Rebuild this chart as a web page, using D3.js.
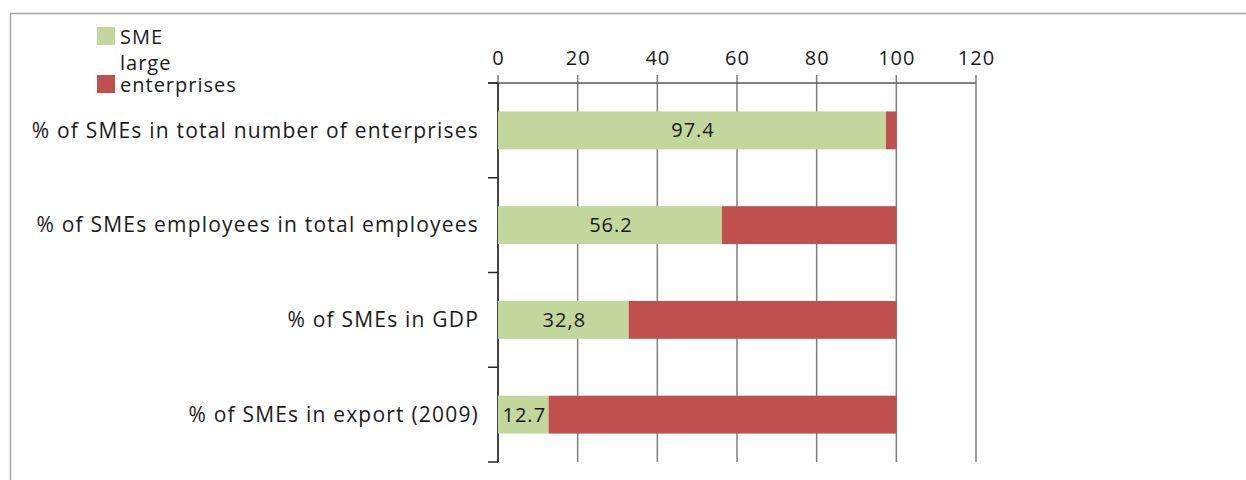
<!DOCTYPE html>
<html>
<head>
  <meta charset="utf-8">
  <title>SMEs share</title>
  <style>
    body { margin: 0; background: #fff; }
    text { font-family: "Open Sans", sans-serif; fill: #1a1a1a; letter-spacing: 1px; }
  </style>
  <script src="https://d3js.org/d3.v7.min.js"></script>
</head>
<body>
  <div id="chart"></div>
  <script>
    const categories = [
      '% of SMEs in total number of enterprises',
      '% of SMEs employees in total employees',
      '% of SMEs in GDP',
      '% of SMEs in export (2009)'
    ];
    const smeValues = [97.4, 56.2, 32.8, 12.7];
    const largeValues = [2.6, 43.8, 67.2, 87.3];
    const smeLabels = ['97.4', '56.2', '32,8', '12.7'];
    const xTicks = [0, 20, 40, 60, 80, 100, 120];
    const seriesNames = ['SME', 'large enterprises'];
    const colors = ['#c3d69b', '#c0504d'];

    const W = 1246, H = 480;
    const plot = { left: 498, right: 976, top: 83, bottom: 462 };

    const svg = d3.select('#chart').append('svg')
      .attr('width', W)
      .attr('height', H);

    // chart frame
    svg.append('rect')
      .attr('x', 10.5).attr('y', 13.5)
      .attr('width', W).attr('height', H)
      .attr('fill', 'none')
      .attr('stroke', '#a6a6a6')
      .attr('stroke-width', 1.5);

    const x = d3.scaleLinear().domain([0, 120]).range([plot.left, plot.right]);
    const y = d3.scaleBand().domain(categories).range([plot.top, plot.bottom]).paddingInner(0.6).paddingOuter(0.3);

    // vertical gridlines
    svg.append('g')
      .selectAll('line')
      .data(xTicks)
      .join('line')
        .attr('x1', d => x(d)).attr('x2', d => x(d))
        .attr('y1', plot.top - 8).attr('y2', plot.bottom)
        .attr('stroke', '#7f7f7f')
        .attr('stroke-width', 1.5);

    // top axis
    const xAxis = svg.append('g')
      .attr('transform', `translate(0,${plot.top})`)
      .call(d3.axisTop(x).tickValues(xTicks).tickSize(0).tickPadding(18));
    xAxis.select('.domain').remove();
    xAxis.selectAll('text')
      .style('font-size', '20px')
      .style('font-family', '"Open Sans", sans-serif')
      .attr('fill', '#1a1a1a');

    svg.append('line')
      .attr('x1', plot.left - 10).attr('x2', plot.right)
      .attr('y1', plot.top).attr('y2', plot.top)
      .attr('stroke', '#595959').attr('stroke-width', 1.5);

    // category axis line and ticks between bands
    svg.append('line')
      .attr('x1', plot.left).attr('x2', plot.left)
      .attr('y1', plot.top).attr('y2', plot.bottom)
      .attr('stroke', '#262626').attr('stroke-width', 1.5);

    const bandStep = (plot.bottom - plot.top) / categories.length;
    svg.append('g')
      .selectAll('line')
      .data(d3.range(categories.length + 1))
      .join('line')
        .attr('x1', plot.left - 10).attr('x2', plot.left)
        .attr('y1', i => plot.top + i * bandStep).attr('y2', i => plot.top + i * bandStep)
        .attr('stroke', '#262626').attr('stroke-width', 1.5);

    // bars
    const rows = categories.map((c, i) => ({ c, sme: smeValues[i], large: largeValues[i], label: smeLabels[i] }));

    svg.append('g').selectAll('rect')
      .data(rows)
      .join('rect')
        .attr('x', x(0))
        .attr('y', d => y(d.c))
        .attr('width', d => x(d.sme) - x(0))
        .attr('height', y.bandwidth())
        .attr('fill', colors[0]);

    svg.append('g').selectAll('rect')
      .data(rows)
      .join('rect')
        .attr('x', d => x(d.sme))
        .attr('y', d => y(d.c))
        .attr('width', d => x(d.sme + d.large) - x(d.sme))
        .attr('height', y.bandwidth())
        .attr('fill', colors[1]);

    // value labels
    svg.append('g').selectAll('text')
      .data(rows)
      .join('text')
        .attr('x', d => (x(0) + x(d.sme)) / 2 + 1)
        .attr('y', d => y(d.c) + y.bandwidth() / 2)
        .attr('dy', '0.35em')
        .attr('text-anchor', 'middle')
        .style('font-size', '20px')
        .text(d => d.label);

    // category labels
    svg.append('g').selectAll('text')
      .data(categories)
      .join('text')
        .attr('x', plot.left - 19)
        .attr('y', d => y(d) + y.bandwidth() / 2)
        .attr('dy', '0.35em')
        .attr('text-anchor', 'end')
        .style('font-size', '21px')
        .style('letter-spacing', '1.2px')
        .text(d => d);

    // legend
    const legend = svg.append('g');
    legend.append('rect').attr('x', 97).attr('y', 27).attr('width', 18).attr('height', 18).attr('fill', colors[0]);
    legend.append('text').attr('x', 120).attr('y', 44).style('font-size', '20px').text(seriesNames[0]);
    legend.append('rect').attr('x', 97).attr('y', 75).attr('width', 18).attr('height', 18).attr('fill', colors[1]);
    const lt = legend.append('text').attr('x', 120).attr('y', 70).style('font-size', '20px');
    lt.append('tspan').attr('x', 120).text(seriesNames[1].split(' ')[0]);
    lt.append('tspan').attr('x', 120).attr('dy', 22).text(seriesNames[1].split(' ')[1]);
  </script>
</body>
</html>
